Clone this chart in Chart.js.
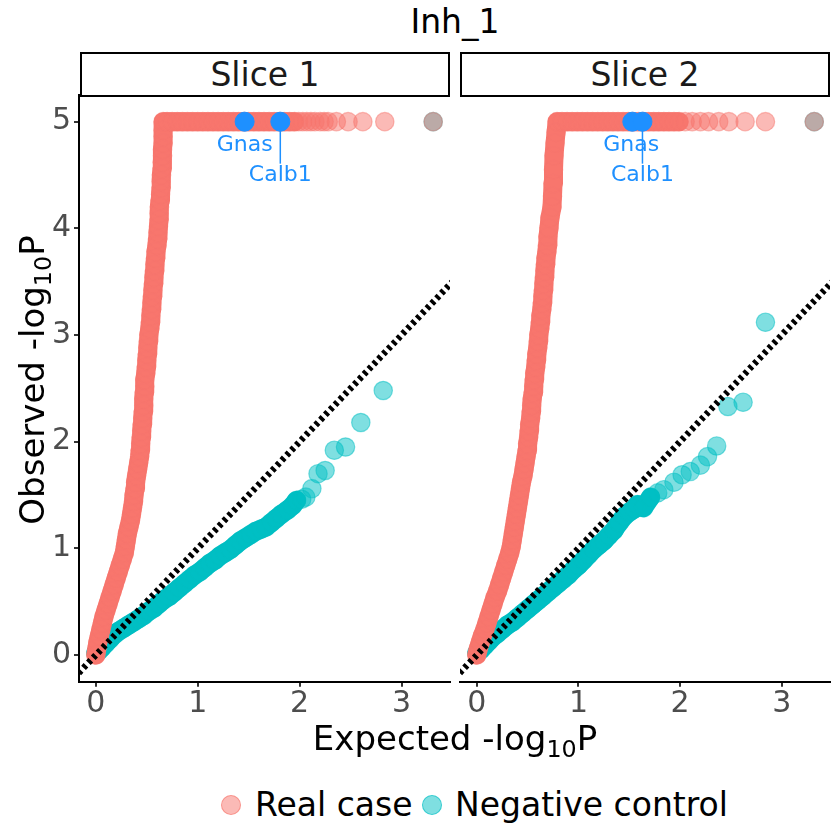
<!DOCTYPE html>
<html>
<head>
<meta charset="utf-8">
<script src="https://cdn.jsdelivr.net/npm/chart.js@4.4.0/dist/chart.umd.min.js"></script>
<style>
  body { margin: 0; background: #fff; font-family: "DejaVu Sans", sans-serif; }
  #wrap { position: relative; width: 840px; height: 840px; overflow: hidden; background: #fff; }
  .abs { position: absolute; white-space: nowrap; height: 40px; line-height: 40px; }
  .strip { position: absolute; top: 52px; height: 41px; border: 2px solid #000; font-size: 33px; color: #1a1a1a; text-align: center; line-height: 41px; }
  .dot { position: absolute; width: 18px; height: 18px; border-radius: 50%; }
  sub { font-size: 70%; vertical-align: -0.3em; line-height: 0; }
  canvas { position: absolute; }
</style>
</head>
<body>
<div id="wrap">
  <div class="abs" style="left:0; width:910px; top:2px; text-align:center; font-size:33px; color:#000">Inh_1</div>
  <div class="strip" style="left:80px; width:366px">Slice 1</div>
  <div class="strip" style="left:460px; width:366px">Slice 2</div>
  <canvas id="slice1" width="455" height="640" style="left:0; top:85px"></canvas>
  <canvas id="slice2" width="380" height="640" style="left:455px; top:85px"></canvas>
  <div class="abs" style="left:-218px; width:500px; top:360px; text-align:center; font-size:34px; transform:rotate(-90deg)">Observed -log<sub>10</sub>P</div>
  <div class="abs" style="left:205px; width:500px; top:718px; text-align:center; font-size:34px">Expected -log<sub>10</sub>P</div>
  <div class="dot" style="left:221px; top:795px; background:rgba(248,118,109,0.5); border:1px solid rgba(248,118,109,0.6)"></div>
  <div class="abs" style="left:255px; top:785px; font-size:33px">Real case</div>
  <div class="dot" style="left:422px; top:795px; background:rgba(0,191,196,0.5); border:1px solid rgba(0,191,196,0.6)"></div>
  <div class="abs" style="left:455px; top:785px; font-size:33px">Negative control</div>
</div>
<script>
// axis settings
const xTicks = [0, 1, 2, 3]
const yTicks = [0, 1, 2, 3, 4, 5]
const xRange = [-0.165, 3.475]
const yRange = [-0.25, 5.25]
const refLine = [-0.5, 4]

// Slice 1 - real case (first s1RealDense points overlap into a solid band)
const s1RealExp = [0.00, 0.01, 0.02, 0.035, 0.05, 0.065, 0.08, 0.10, 0.12, 0.14, 0.16, 0.18, 0.20, 0.22, 0.24, 0.26, 0.28, 0.29, 0.30, 0.31,
    0.325, 0.34, 0.35, 0.36, 0.37, 0.375, 0.385, 0.39, 0.40, 0.41, 0.42, 0.43, 0.435, 0.44, 0.445, 0.45, 0.455, 0.46, 0.465, 0.47,
    0.47, 0.475, 0.48, 0.48, 0.49, 0.495, 0.50, 0.505, 0.51, 0.515, 0.52, 0.53, 0.535, 0.54, 0.545, 0.55, 0.555, 0.56, 0.565, 0.57,
    0.575, 0.58, 0.585, 0.59, 0.60, 0.605, 0.61, 0.615, 0.62, 0.62, 0.625, 0.63, 0.635, 0.64, 0.64, 0.645, 0.65, 0.65, 0.655, 0.655,
    0.66, 0.66, 0.66,
    0.66, 0.70, 0.75, 0.80, 0.85, 0.90, 0.95, 1.00, 1.05, 1.10, 1.15, 1.20, 1.25, 1.30, 1.35, 1.40, 1.45, 1.50, 1.55, 1.60,
    1.65, 1.70, 1.75, 1.80, 1.85, 1.90, 1.95, 1.99, 2.03, 2.07, 2.11, 2.15, 2.20, 2.24, 2.28, 2.36, 2.475, 2.62, 2.835, 3.31]
const s1RealObs = [0.00, 0.06, 0.12, 0.18, 0.24, 0.30, 0.36, 0.42, 0.48, 0.54, 0.60, 0.66, 0.72, 0.78, 0.84, 0.90, 0.96, 1.02, 1.08, 1.14,
    1.20, 1.26, 1.32, 1.38, 1.44, 1.50, 1.56, 1.62, 1.68, 1.74, 1.80, 1.86, 1.92, 1.98, 2.04, 2.10, 2.16, 2.22, 2.28, 2.34,
    2.40, 2.46, 2.52, 2.58, 2.64, 2.70, 2.76, 2.82, 2.88, 2.94, 3.00, 3.06, 3.12, 3.18, 3.24, 3.30, 3.36, 3.42, 3.48, 3.54,
    3.60, 3.66, 3.72, 3.78, 3.84, 3.90, 3.96, 4.02, 4.08, 4.14, 4.20, 4.26, 4.32, 4.38, 4.44, 4.50, 4.56, 4.62, 4.68, 4.74,
    4.80, 4.86, 4.92,
    5, 5, 5, 5, 5, 5, 5, 5, 5, 5, 5, 5, 5, 5, 5, 5, 5, 5, 5, 5,
    5, 5, 5, 5, 5, 5, 5, 5, 5, 5, 5, 5, 5, 5, 5, 5, 5, 5, 5, 5]
const s1RealDense = 110

// Slice 1 - negative control
const s1CtrlExp = [0.00, 0.03, 0.06, 0.10, 0.14, 0.18, 0.22, 0.27, 0.32, 0.37, 0.42, 0.47, 0.52, 0.57, 0.62, 0.67, 0.72, 0.77, 0.82, 0.87,
    0.92, 0.97, 1.02, 1.07, 1.12, 1.17, 1.22, 1.27, 1.32, 1.37, 1.42, 1.47, 1.52, 1.57, 1.62, 1.67, 1.72, 1.77, 1.82, 1.88,
    1.93, 1.97, 2.02, 2.06, 2.12, 2.18, 2.25, 2.34, 2.45, 2.60, 2.82, 3.31]
const s1CtrlObs = [0.02, 0.04, 0.07, 0.11, 0.15, 0.19, 0.22, 0.25, 0.28, 0.31, 0.34, 0.37, 0.41, 0.44, 0.48, 0.52, 0.55, 0.59, 0.63, 0.67,
    0.71, 0.75, 0.78, 0.82, 0.86, 0.89, 0.93, 0.96, 0.99, 1.03, 1.07, 1.10, 1.13, 1.16, 1.18, 1.20, 1.24, 1.28, 1.32, 1.36,
    1.40, 1.45, 1.46, 1.48, 1.56, 1.70, 1.73, 1.92, 1.95, 2.18, 2.48, 5.00]
const s1CtrlDense = 42

// Slice 2 - real case
const s2RealExp = [0.00, 0.015, 0.035, 0.055, 0.08, 0.10, 0.12, 0.14, 0.16, 0.18, 0.205, 0.225, 0.245, 0.265, 0.285, 0.305, 0.325, 0.34, 0.35, 0.36,
    0.37, 0.38, 0.39, 0.40, 0.41, 0.42, 0.43, 0.44, 0.455, 0.465, 0.475, 0.485, 0.495, 0.50, 0.51, 0.515, 0.52, 0.53, 0.535, 0.54,
    0.545, 0.555, 0.56, 0.565, 0.57, 0.58, 0.585, 0.59, 0.60, 0.605, 0.61, 0.62, 0.625, 0.63, 0.64, 0.645, 0.65, 0.655, 0.66, 0.665,
    0.67, 0.675, 0.68, 0.69, 0.695, 0.70, 0.71, 0.72, 0.74, 0.745, 0.75, 0.755, 0.76, 0.77, 0.78,
    0.79, 0.84, 0.89, 0.94, 0.99, 1.04, 1.09, 1.14, 1.19, 1.24, 1.29, 1.34, 1.39, 1.44, 1.49, 1.54, 1.59, 1.64, 1.69, 1.74,
    1.79, 1.84, 1.89, 1.94, 1.99, 2.05, 2.12, 2.20, 2.28, 2.38, 2.48, 2.64, 2.84, 3.32]
const s2RealObs = [0.00, 0.06, 0.12, 0.18, 0.24, 0.30, 0.36, 0.42, 0.48, 0.54, 0.60, 0.66, 0.72, 0.78, 0.84, 0.90, 0.96, 1.02, 1.08, 1.14,
    1.20, 1.26, 1.32, 1.38, 1.44, 1.50, 1.56, 1.62, 1.68, 1.74, 1.80, 1.86, 1.92, 1.98, 2.04, 2.10, 2.16, 2.22, 2.28, 2.34,
    2.40, 2.46, 2.52, 2.58, 2.64, 2.70, 2.76, 2.82, 2.88, 2.94, 3.00, 3.06, 3.12, 3.18, 3.24, 3.30, 3.36, 3.42, 3.48, 3.54,
    3.60, 3.66, 3.72, 3.78, 3.84, 3.92, 4.00, 4.10, 4.20, 4.30, 4.42, 4.55, 4.68, 4.80, 4.90,
    5, 5, 5, 5, 5, 5, 5, 5, 5, 5, 5, 5, 5, 5, 5, 5, 5, 5, 5, 5,
    5, 5, 5, 5, 5, 5, 5, 5, 5, 5, 5, 5, 5, 5]
const s2RealDense = 100

// Slice 2 - negative control
const s2CtrlExp = [0.00, 0.04, 0.08, 0.12, 0.16, 0.20, 0.25, 0.30, 0.35, 0.40, 0.45, 0.50, 0.55, 0.60, 0.65, 0.70, 0.75, 0.80, 0.85, 0.90,
    0.95, 1.00, 1.05, 1.10, 1.15, 1.20, 1.25, 1.30, 1.35, 1.40, 1.45, 1.50, 1.55, 1.58, 1.64, 1.71, 1.78, 1.84, 1.94, 2.02,
    2.10, 2.20, 2.27, 2.36, 2.47, 2.62, 2.84, 3.32]
const s2CtrlObs = [0.02, 0.05, 0.09, 0.13, 0.17, 0.20, 0.24, 0.28, 0.31, 0.35, 0.39, 0.43, 0.47, 0.51, 0.55, 0.59, 0.63, 0.67, 0.71, 0.75,
    0.80, 0.84, 0.89, 0.94, 0.99, 1.03, 1.07, 1.12, 1.17, 1.24, 1.30, 1.34, 1.37, 1.41, 1.38, 1.48, 1.52, 1.55, 1.62, 1.69,
    1.72, 1.78, 1.86, 1.96, 2.33, 2.37, 3.12, 5.00]
const s2CtrlDense = 36

// highlighted genes
const s1Genes = ["Gnas", "Calb1"]
const s1GeneExp = [1.46, 1.81]
const s1GeneObs = [5, 5]
const s2Genes = ["Gnas", "Calb1"]
const s2GeneExp = [1.53, 1.63]
const s2GeneObs = [5, 5]

const REAL_COLOR = "rgba(248,118,109,0.5)"
const CTRL_COLOR = "rgba(0,191,196,0.5)"
const REAL_SOLID = "rgb(248,118,109)"
const CTRL_SOLID = "rgb(0,191,196)"
const GENE_COLOR = "#1E90FF"
const FONT = "'DejaVu Sans', sans-serif"

function zip(xs, ys) {
    return xs.map((x, i) => ({x: x, y: ys[i]}))
}

const geneLabels = {
    id: "geneLabels",
    afterDatasetsDraw(chart, args, opts) {
        let ctx = chart.ctx
        let xs = chart.scales.x, ys = chart.scales.y
        ctx.save()
        ctx.font = `22px ${FONT}`
        ctx.fillStyle = GENE_COLOR
        ctx.strokeStyle = GENE_COLOR
        ctx.lineWidth = 1.5
        ctx.textAlign = "center"
        ctx.textBaseline = "middle"
        opts.names.forEach((name, i) => {
            let px = xs.getPixelForValue(opts.exp[i])
            let py = ys.getPixelForValue(opts.obs[i])
            let lx = px + opts.dx[i], ly = py + opts.dy[i]
            if (opts.dy[i] > 40) {
                ctx.beginPath()
                ctx.moveTo(px, py + 9)
                ctx.lineTo(px, ly - 12)
                ctx.stroke()
            }
            ctx.fillText(name, lx, ly)
        })
        ctx.restore()
    }
}

function pointSet(label, data, color) {
    return {label: label, data: data, backgroundColor: color, borderColor: color, borderWidth: 1.2, pointRadius: 9.2}
}

function bandSet(data, color) {
    // the overlapping points of the dense part read as one solid stroke
    return {
        type: "line", data: data, borderColor: color, borderWidth: 19, pointRadius: 0, fill: false,
        borderCapStyle: "round", borderJoinStyle: "round", tension: 0
    }
}

function makePanel(id, realExp, realObs, realDense, ctrlExp, ctrlObs, ctrlDense, genes, geneExp, geneObs, dx, showY, padding) {
    let canvas = document.getElementById(id)
    let real = zip(realExp, realObs)
    let ctrl = zip(ctrlExp, ctrlObs)
    return new Chart(canvas.getContext("2d"), {
        type: "scatter",
        data: {
            datasets: [
                {
                    type: "line",
                    data: zip(refLine, refLine),
                    borderColor: "#000",
                    borderWidth: 6.5,
                    borderDash: [3.5, 3.5],
                    pointRadius: 0,
                    fill: false
                },
                {
                    data: zip(geneExp, geneObs),
                    backgroundColor: GENE_COLOR,
                    borderColor: GENE_COLOR,
                    borderWidth: 1,
                    pointRadius: 9.5
                },
                pointSet("Real case", real, REAL_COLOR),
                bandSet(real.slice(0, realDense), REAL_SOLID),
                pointSet("Negative control", ctrl, CTRL_COLOR),
                bandSet(ctrl.slice(0, ctrlDense), CTRL_SOLID)
            ]
        },
        options: {
            responsive: false,
            animation: false,
            events: [],
            layout: {padding: padding, autoPadding: false},
            plugins: {
                legend: {display: false},
                tooltip: {enabled: false},
                geneLabels: {names: genes, exp: geneExp, obs: geneObs, dx: dx, dy: [24, 54]}
            },
            scales: {
                x: {
                    type: "linear",
                    min: xRange[0],
                    max: xRange[1],
                    afterBuildTicks: s => { s.ticks = xTicks.map(v => ({value: v})) },
                    afterFit: s => { s.height = 43.3; s.paddingLeft = 0; s.paddingRight = 0 },
                    border: {display: true, color: "#000", width: 2},
                    grid: {drawOnChartArea: false, drawTicks: true, tickLength: 5, color: "#333", lineWidth: 2},
                    ticks: {color: "#4D4D4D", font: {size: 30, family: FONT}, padding: 0, maxRotation: 0}
                },
                y: {
                    type: "linear",
                    display: showY,
                    min: yRange[0],
                    max: yRange[1],
                    afterBuildTicks: s => { s.ticks = yTicks.map(v => ({value: v})) },
                    afterFit: s => { s.width = showY ? 79 : 0; s.paddingTop = 0; s.paddingBottom = 0 },
                    border: {display: true, color: "#000", width: 2},
                    grid: {drawOnChartArea: false, drawTicks: true, tickLength: 5, color: "#333", lineWidth: 2},
                    ticks: {color: "#4D4D4D", font: {size: 30, family: FONT}, padding: 3}
                }
            }
        },
        plugins: [geneLabels]
    })
}

makePanel("slice1", s1RealExp, s1RealObs, s1RealDense, s1CtrlExp, s1CtrlObs, s1CtrlDense,
    s1Genes, s1GeneExp, s1GeneObs, [0, 0], true, {top: 10, right: 5, left: 0, bottom: 0})
makePanel("slice2", s2RealExp, s2RealObs, s2RealDense, s2CtrlExp, s2CtrlObs, s2CtrlDense,
    s2Genes, s2GeneExp, s2GeneObs, [-1, 0], false, {top: 10, right: 5, left: 5, bottom: 0})
</script>
</body>
</html>
